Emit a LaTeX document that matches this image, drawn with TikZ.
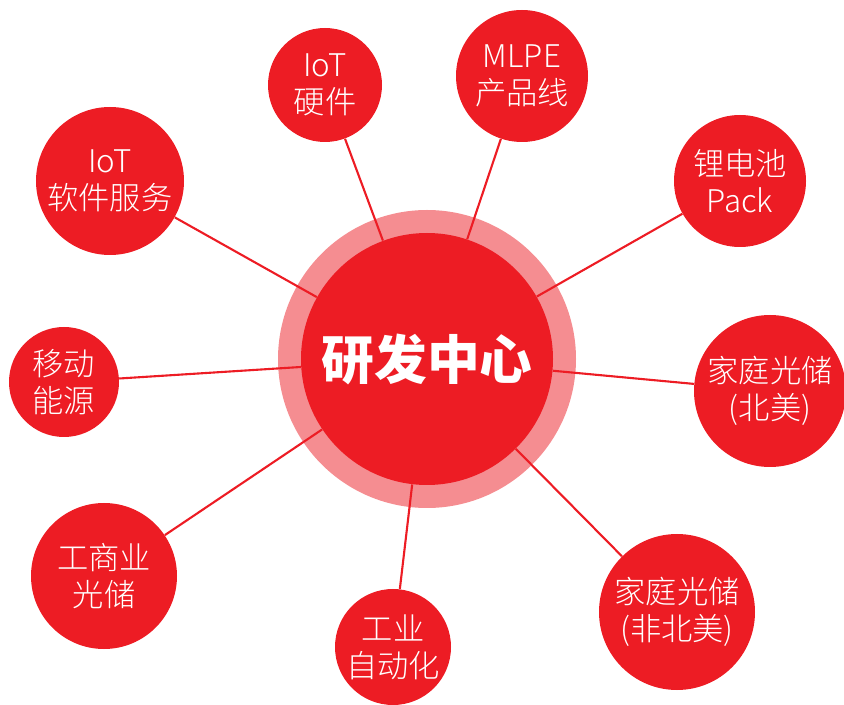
\documentclass[tikz,border=0pt]{standalone}
\usepackage{fontspec}
\setmainfont{Noto Sans CJK SC}
\newfontfamily\thincjk{Noto Sans CJK SC Light}
\usepackage{tikz}
\usetikzlibrary{positioning}
\definecolor{rdred}{RGB}{237,28,36}
\definecolor{rdpink}{RGB}{245,141,145}
\tikzstyle{link} = [line width=1.2pt, color=rdred]
\tikzstyle{branch} = [circle, fill=rdred, text=white, align=center, inner sep=0pt, font=\thincjk\fontsize{17.8}{21}\selectfont]

\begin{document}
\begin{tikzpicture}
    \useasboundingbox (0,0) rectangle (16.88,14.08);

    % Center
    \node[circle, fill=rdpink, minimum size=5.96cm] (ring) at (8.54,6.90) {};
    \node[circle, fill=rdred, minimum size=5.04cm, text=white, font=\fontsize{30}{36}\selectfont\bfseries] (rd) at (8.54,6.90) {研发中心};

    % Branches
    \node[branch, minimum size=2.96cm] (soft) at (2.20,10.46) {IoT\\软件服务};
    \node[branch, minimum size=2.28cm] (hw) at (6.50,12.38) {IoT\\硬件};
    \node[branch, minimum size=2.64cm] (mlpe) at (10.44,12.56) {MLPE\\产品线};
    \node[branch, minimum size=2.64cm] (pack) at (14.80,10.46) {锂电池\\Pack};
    \node[branch, minimum size=3.04cm] (na) at (15.40,6.26) {家庭光储\\(北美)};
    \node[branch, minimum size=3.12cm] (nonna) at (13.54,1.84) {家庭光储\\(非北美)};
    \node[branch, minimum size=2.32cm] (auto) at (7.86,1.14) {工业\\自动化};
    \node[branch, minimum size=2.92cm] (ci) at (2.08,2.56) {工商业\\光储};
    \node[branch, minimum size=2.20cm] (mobile) at (1.28,6.44) {移动\\能源};

    % Links
    \draw[link] (rd) -- (soft);
    \draw[link] (rd) -- (hw);
    \draw[link] (rd) -- (mlpe);
    \draw[link] (rd) -- (pack);
    \draw[link] (rd) -- (na);
    \draw[link] (rd) -- (nonna);
    \draw[link] (rd) -- (auto);
    \draw[link] (rd) -- (ci);
    \draw[link] (rd) -- (mobile);
\end{tikzpicture}
\end{document}
